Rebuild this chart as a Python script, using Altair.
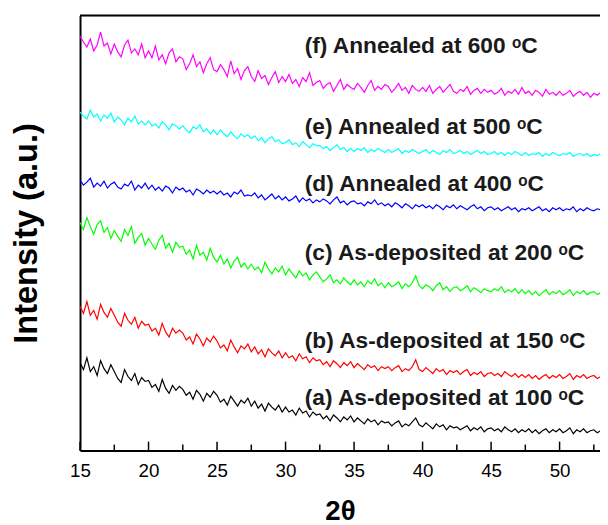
import altair as alt
import pandas as pd

# ---- data ----
x_start = 15.0
x_step = 0.25

series_names = ["a", "b", "c", "d", "e", "f"]
series_colors = ["#000000", "#ff0000", "#00ff00", "#0000ff", "#00ffff", "#ff00ff"]

curve_a = [
    89, 82, 94, 80, 85, 76, 91, 83, 78, 87,
    80, 73, 69, 82, 75, 71, 78, 67, 74, 70,
    71, 64, 67, 60, 72, 63, 58, 66, 61, 65,
    62, 56, 59, 52, 61, 57, 50, 58, 54, 60,
    56, 49, 52, 46, 55, 50, 45, 51, 48, 53,
    45, 50, 43, 47, 40, 48, 44, 41, 46, 39,
    44, 39, 41, 36, 43, 38, 40, 34, 39, 36,
    37, 32, 35, 30, 36, 33, 29, 34, 31, 35,
    29, 33, 30, 27, 32, 29, 31, 26, 30, 28,
    29, 25, 28, 30, 24, 27, 25, 29, 33, 26,
    24, 28, 25, 22, 27, 24, 26, 21, 25, 23,
    24, 21, 23, 25, 20, 23, 21, 24, 19, 22,
    23, 20, 22, 19, 24, 21, 19, 22, 18, 21,
    19, 22, 18, 21, 17, 20, 22, 18, 21, 19,
    22, 18, 20, 23, 17, 21, 19, 22, 18, 20,
    21, 18, 20,
]
curve_b = [
    146, 139, 151, 137, 142, 133, 148, 140, 135, 144,
    137, 130, 126, 139, 132, 128, 135, 124, 131, 127,
    128, 121, 124, 117, 129, 120, 115, 124, 119, 122,
    119, 112, 115, 108, 118, 113, 106, 114, 110, 116,
    111, 104, 107, 101, 112, 105, 99, 106, 103, 108,
    100, 105, 98, 102, 95, 103, 99, 96, 101, 94,
    99, 94, 96, 91, 98, 93, 95, 89, 94, 91,
    92, 87, 90, 85, 91, 88, 84, 89, 86, 90,
    84, 88, 85, 82, 87, 84, 86, 81, 85, 83,
    85, 81, 84, 86, 80, 83, 81, 85, 92, 82,
    80, 84, 81, 78, 83, 80, 82, 77, 81, 79,
    81, 77, 80, 82, 76, 79, 77, 80, 75, 78,
    79, 76, 78, 75, 80, 77, 75, 78, 74, 77,
    74, 77, 73, 76, 72, 75, 77, 73, 76, 74,
    77, 73, 75, 78, 72, 76, 74, 77, 73, 75,
    76, 73, 75,
]
curve_c = [
    231, 224, 236, 227, 219, 229, 233, 221, 226, 215,
    223, 217, 212, 224, 218, 227, 210, 216, 220, 208,
    215, 209, 204, 213, 218, 205, 210, 201, 211, 206,
    207, 199, 203, 194, 208, 198, 201, 193, 205, 196,
    191, 198, 189, 194, 185, 192, 196, 186, 190, 184,
    189, 183, 186, 180, 191, 184, 179, 185, 181, 187,
    178, 184, 179, 175, 182, 177, 180, 173, 178, 181,
    176, 171, 174, 178, 170, 173, 169, 175, 171, 168,
    173, 168, 171, 166, 172, 169, 174, 167, 170, 165,
    170, 166, 168, 171, 164, 169, 166, 170, 177, 167,
    164, 168, 166, 162, 167, 170, 163, 166, 161, 165,
    166, 162, 164, 167, 161, 165, 163, 160, 164, 162,
    161, 164, 162, 166, 160, 163, 161, 164, 159, 163,
    159, 162, 158, 161, 157, 160, 163, 158, 161, 159,
    162, 158, 160, 163, 157, 161, 159, 162, 158, 160,
    161, 158, 160,
]
curve_d = [
    274, 269, 272, 276, 267, 271, 268, 273, 266, 270,
    272, 267, 265, 270, 268, 273, 264, 269, 266, 271,
    265, 269, 264, 267, 263, 268, 266, 261, 267, 264,
    266, 262, 264, 259, 265, 263, 260, 264, 261, 263,
    260, 263, 259, 261, 257, 262, 260, 264, 258, 259,
    258, 261, 256, 259, 254, 257, 260, 255, 258, 254,
    257, 253, 255, 258, 252, 256, 253, 255, 251, 254,
    252, 255, 253, 250, 254, 257, 251, 253, 249, 252,
    253, 250, 251, 248, 252, 250, 254, 249, 251, 248,
    250, 247, 251, 249, 246, 250, 248, 245, 249, 247,
    249, 246, 248, 245, 249, 247, 244, 248, 246, 249,
    245, 248, 246, 244, 247, 249, 245, 247, 243, 246,
    247, 244, 246, 243, 245, 247, 244, 246, 242, 245,
    244, 246, 243, 245, 247, 243, 245, 242, 246, 244,
    246, 243, 245, 244, 247, 242, 245, 243, 246, 244,
    243, 245, 244,
]
curve_e = [
    343, 339, 336, 345, 338, 341, 334, 340, 337, 342,
    333, 338, 335, 330, 337, 333, 339, 331, 334, 330,
    334, 329, 331, 327, 333, 330, 325, 331, 329, 326,
    329, 325, 322, 328, 326, 330, 323, 326, 321, 325,
    320, 325, 321, 318, 323, 319, 316, 321, 318, 320,
    316, 319, 314, 317, 312, 316, 318, 313, 315, 311,
    312, 315, 310, 312, 308, 313, 310, 307, 311, 309,
    309, 306, 308, 304, 307, 310, 305, 307, 303, 306,
    303, 306, 304, 307, 302, 305, 303, 306, 304, 302,
    305, 302, 304, 306, 301, 304, 302, 305, 303, 301,
    303, 305, 301, 304, 302, 300, 304, 302, 305, 301,
    302, 304, 301, 303, 300, 302, 304, 301, 303, 300,
    301, 303, 300, 302, 299, 302, 300, 303, 301, 299,
    302, 299, 301, 300, 302, 298, 301, 299, 302, 300,
    299, 301, 300, 302, 298, 300, 301, 299, 301, 298,
    300, 299, 301,
]
curve_f = [
    420, 414, 409, 417, 405, 411, 424, 410, 413, 402,
    412, 404, 399, 411, 416, 403, 407, 401, 412, 398,
    405, 398, 410, 396, 401, 392, 403, 407, 394, 399,
    397, 386, 392, 401, 389, 394, 383, 392, 398, 386,
    384, 391, 386, 379, 395, 382, 387, 376, 385, 389,
    379, 374, 385, 377, 380, 371, 378, 384, 373, 379,
    374, 381, 372, 376, 369, 378, 374, 383, 370, 373,
    375, 367, 371, 373, 364, 370, 376, 366, 371, 368,
    366, 372, 368, 363, 370, 375, 365, 369, 366, 371,
    369, 363, 367, 372, 365, 368, 362, 370, 366, 364,
    368, 364, 370, 362, 366, 369, 363, 367, 371, 364,
    362, 366, 364, 369, 361, 365, 367, 362, 366, 363,
    365, 361, 363, 367, 360, 364, 362, 366, 361, 368,
    362, 364, 360, 365, 363, 359, 366, 361, 363, 360,
    364, 360, 362, 365, 359, 362, 364, 360, 363, 358,
    362, 360, 363,
]

label_texts = [
    "(a) As-deposited at 100 ᵒC",
    "(b) As-deposited at 150 ᵒC",
    "(c) As-deposited at 200 ᵒC",
    "(d) Annealed at 400 ᵒC",
    "(e) Annealed at 500 ᵒC",
    "(f) Annealed at 600 ᵒC",
]
label_x = [31.4, 31.4, 31.4, 31.4, 31.4, 31.4]
label_y = [53, 111, 200, 270, 328, 410]

major_ticks = [15, 20, 25, 30, 35, 40, 45, 50]
minor_ticks = [17.5, 22.5, 27.5, 32.5, 37.5, 42.5, 47.5, 52.5]

x_domain = [15, 52.95]
y_domain = [0, 441]

# ---- tables ----
curves = [curve_a, curve_b, curve_c, curve_d, curve_e, curve_f]
rows = []
for name, vals in zip(series_names, curves):
    for i, v in enumerate(vals):
        rows.append({"x": x_start + i * x_step, "v": v, "s": name})
df = pd.DataFrame(rows)
lab_df = pd.DataFrame({"x": label_x, "v": label_y, "t": label_texts})
maj_df = pd.DataFrame({"x": major_ticks})
min_df = pd.DataFrame({"x": minor_ticks})

W, H = 527, 441
FONT = "Liberation Sans"

xscale = alt.Scale(domain=x_domain, nice=False, zero=False)
yscale = alt.Scale(domain=y_domain, nice=False, zero=False)

xaxis = alt.Axis(values=major_ticks, ticks=False, grid=False, domainColor="black",
                 domainWidth=2, labelFont=FONT, labelFontSize=19, labelColor="black",
                 labelPadding=11, labelOverlap=False, labelFlush=False, format="d",
                 title="2θ", titleFont=FONT, titleFontSize=28, titleFontWeight="bold",
                 titleColor="black", titlePadding=18)
yaxis = alt.Axis(ticks=False, labels=False, grid=False, domainColor="black", domainWidth=2,
                 title="Intensity (a.u.)", titleFont=FONT, titleFontSize=33,
                 titleFontWeight="bold", titleColor="black", titlePadding=37)

X = alt.X("x:Q", scale=xscale, axis=xaxis)
Y = alt.Y("v:Q", scale=yscale, axis=yaxis)

lines = alt.Chart(df).mark_line(strokeWidth=1.2, clip=True).encode(
    x=X, y=Y,
    color=alt.Color("s:N", scale=alt.Scale(domain=series_names, range=series_colors), legend=None),
)

labels = alt.Chart(lab_df).mark_text(align="left", baseline="middle", font=FONT,
                                     fontWeight="bold", fontSize=23, color="#1a1a1a").encode(
    x=X, y=Y, text="t:N")

maj = alt.Chart(maj_df).mark_rule(color="black", strokeWidth=1.5).encode(
    x=X, y=alt.value(H), y2=alt.value(H - 9))
mino = alt.Chart(min_df).mark_rule(color="black", strokeWidth=1.5).encode(
    x=X, y=alt.value(H), y2=alt.value(H - 6))

top = alt.Chart(pd.DataFrame({"d": [0]})).mark_rule(color="black", strokeWidth=2).encode(
    x=alt.value(0), x2=alt.value(W), y=alt.value(0))

chart = alt.layer(lines, labels, maj, mino, top).properties(
    width=W, height=H,
    autosize=alt.AutoSizeParams(type="none"),
    padding={"left": 73, "top": 4, "right": 0, "bottom": 72},
).configure_view(strokeWidth=0).configure(background="white")

chart.save("out.html", embed_options={"renderer": "svg", "actions": False})
